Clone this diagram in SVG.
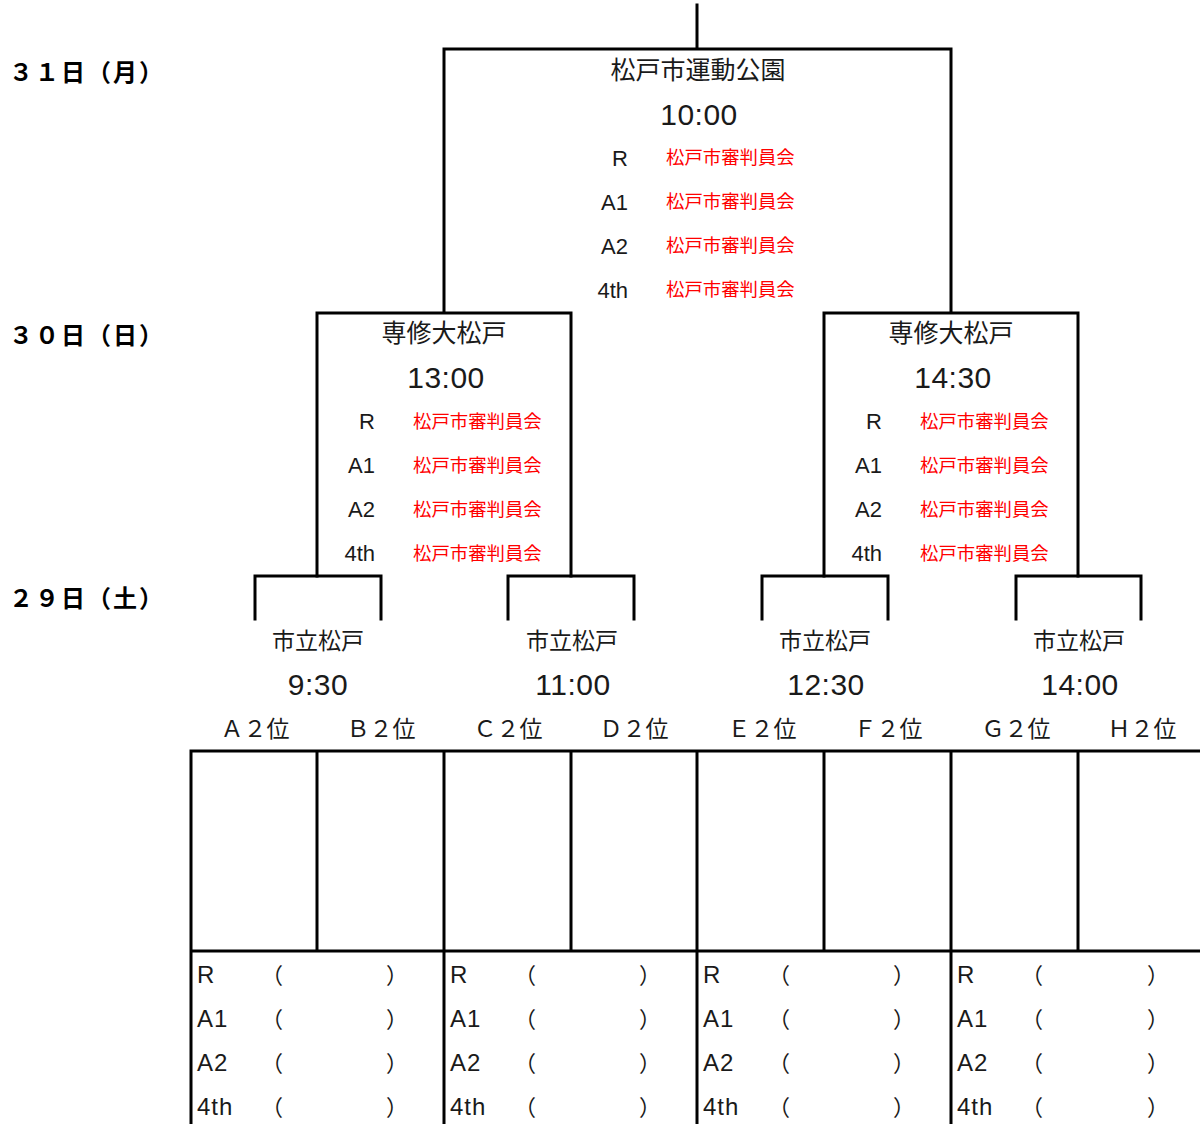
<svg xmlns="http://www.w3.org/2000/svg" width="1200" height="1124" viewBox="0 0 1200 1124">
<style>
.ln{stroke:#000;stroke-width:3;fill:none;stroke-linecap:square}
.jp{font-family:"Noto Sans CJK JP","Liberation Sans",sans-serif;fill:#1a1a1a}
.date{font-family:"Noto Sans CJK JP","Liberation Sans",sans-serif;font-size:24px;fill:#000;font-weight:bold;letter-spacing:2px}
.ven{font-size:25px;text-anchor:middle}
.time{font-family:"Liberation Sans","Noto Sans",sans-serif;font-size:30px;fill:#1a1a1a;text-anchor:middle;letter-spacing:0.5px}
.lab{font-family:"Liberation Sans","Noto Sans",sans-serif;font-size:22px;fill:#1a1a1a;text-anchor:end}
.ref{font-family:"Noto Sans CJK JP",sans-serif;font-size:18.4px;fill:#ff0000}
.team{font-family:"Noto Sans CJK JP","Liberation Sans",sans-serif;font-size:23px;fill:#1a1a1a;text-anchor:middle}
.cell{font-family:"Liberation Sans","Noto Sans",sans-serif;font-size:24px;fill:#1a1a1a;letter-spacing:1px}
.par{font-family:"Noto Sans CJK JP",sans-serif;font-size:22px;fill:#1a1a1a;text-anchor:middle}
</style>

<g id="dates">
<text class="date" x="9" y="81">３１日（月）</text>
<text class="date" x="9" y="344">３０日（日）</text>
<text class="date" x="9" y="607">２９日（土）</text>
</g>

<g id="connectors">
<path class="ln" d="M697,5 V49 M444,312 V49 H951 V312"/>
<path class="ln" d="M317,576 V313 H571 V576"/>
<path class="ln" d="M824,576 V313 H1078 V576"/>
<path class="ln" d="M255,619 V576 H381 V619"/>
<path class="ln" d="M508,619 V576 H634 V619"/>
<path class="ln" d="M762,619 V576 H888 V619"/>
<path class="ln" d="M1016,619 V576 H1141 V619"/>
</g>

<g id="final">
<text class="jp ven" x="698" y="79">松戸市運動公園</text>
<text class="time" x="699" y="125">10:00</text>
<text class="lab" x="628" y="166">R</text>
<text class="lab" x="628" y="210">A1</text>
<text class="lab" x="628" y="254">A2</text>
<text class="lab" x="628" y="298">4th</text>
<text class="ref" x="666" y="164">松戸市審判員会</text>
<text class="ref" x="666" y="208">松戸市審判員会</text>
<text class="ref" x="666" y="252">松戸市審判員会</text>
<text class="ref" x="666" y="296">松戸市審判員会</text>
</g>

<g id="semi-left">
<text class="jp ven" x="444" y="342">専修大松戸</text>
<text class="time" x="446" y="388">13:00</text>
<text class="lab" x="375" y="429">R</text>
<text class="lab" x="375" y="473">A1</text>
<text class="lab" x="375" y="517">A2</text>
<text class="lab" x="375" y="561">4th</text>
<text class="ref" x="413" y="428">松戸市審判員会</text>
<text class="ref" x="413" y="472">松戸市審判員会</text>
<text class="ref" x="413" y="516">松戸市審判員会</text>
<text class="ref" x="413" y="560">松戸市審判員会</text>
</g>

<g id="semi-right">
<text class="jp ven" x="951" y="342">専修大松戸</text>
<text class="time" x="953" y="388">14:30</text>
<text class="lab" x="882" y="429">R</text>
<text class="lab" x="882" y="473">A1</text>
<text class="lab" x="882" y="517">A2</text>
<text class="lab" x="882" y="561">4th</text>
<text class="ref" x="920" y="428">松戸市審判員会</text>
<text class="ref" x="920" y="472">松戸市審判員会</text>
<text class="ref" x="920" y="516">松戸市審判員会</text>
<text class="ref" x="920" y="560">松戸市審判員会</text>
</g>

<g id="match1">
<text class="jp ven" x="318" y="649" style="font-size:23px">市立松戸</text>
<text class="time" x="318" y="695">9:30</text>
</g>
<g id="match2">
<text class="jp ven" x="572" y="649" style="font-size:23px">市立松戸</text>
<text class="time" x="573" y="695">11:00</text>
</g>
<g id="match3">
<text class="jp ven" x="825" y="649" style="font-size:23px">市立松戸</text>
<text class="time" x="826" y="695">12:30</text>
</g>
<g id="match4">
<text class="jp ven" x="1079" y="649" style="font-size:23px">市立松戸</text>
<text class="time" x="1080" y="695">14:00</text>
</g>

<g id="teams">
<text class="team" x="255" y="737">Ａ２位</text>
<text class="team" x="381" y="737">Ｂ２位</text>
<text class="team" x="508" y="737">Ｃ２位</text>
<text class="team" x="634" y="737">Ｄ２位</text>
<text class="team" x="762" y="737">Ｅ２位</text>
<text class="team" x="888" y="737">Ｆ２位</text>
<text class="team" x="1016" y="737">Ｇ２位</text>
<text class="team" x="1142" y="737">Ｈ２位</text>
</g>

<g id="table">
<path class="ln" d="M191,751 H1200 M191,951 H1200 M191,751 V1124 M444,751 V1124 M697,751 V1124 M951,751 V1124 M317,751 V951 M571,751 V951 M824,751 V951 M1078,751 V951"/>
<g id="ref-cells">
<g id="ref-cell-1">
<text class="cell" x="197" y="983">R</text><text class="cell" x="197" y="1027">A1</text><text class="cell" x="197" y="1071">A2</text><text class="cell" x="197" y="1115">4th</text>
<text class="par" y="983"><tspan x="272">（</tspan><tspan x="397">）</tspan></text>
<text class="par" y="1027"><tspan x="272">（</tspan><tspan x="397">）</tspan></text>
<text class="par" y="1071"><tspan x="272">（</tspan><tspan x="397">）</tspan></text>
<text class="par" y="1115"><tspan x="272">（</tspan><tspan x="397">）</tspan></text>
</g>
<g id="ref-cell-2">
<text class="cell" x="450" y="983">R</text><text class="cell" x="450" y="1027">A1</text><text class="cell" x="450" y="1071">A2</text><text class="cell" x="450" y="1115">4th</text>
<text class="par" y="983"><tspan x="525">（</tspan><tspan x="650">）</tspan></text>
<text class="par" y="1027"><tspan x="525">（</tspan><tspan x="650">）</tspan></text>
<text class="par" y="1071"><tspan x="525">（</tspan><tspan x="650">）</tspan></text>
<text class="par" y="1115"><tspan x="525">（</tspan><tspan x="650">）</tspan></text>
</g>
<g id="ref-cell-3">
<text class="cell" x="703" y="983">R</text><text class="cell" x="703" y="1027">A1</text><text class="cell" x="703" y="1071">A2</text><text class="cell" x="703" y="1115">4th</text>
<text class="par" y="983"><tspan x="779">（</tspan><tspan x="904">）</tspan></text>
<text class="par" y="1027"><tspan x="779">（</tspan><tspan x="904">）</tspan></text>
<text class="par" y="1071"><tspan x="779">（</tspan><tspan x="904">）</tspan></text>
<text class="par" y="1115"><tspan x="779">（</tspan><tspan x="904">）</tspan></text>
</g>
<g id="ref-cell-4">
<text class="cell" x="957" y="983">R</text><text class="cell" x="957" y="1027">A1</text><text class="cell" x="957" y="1071">A2</text><text class="cell" x="957" y="1115">4th</text>
<text class="par" y="983"><tspan x="1032">（</tspan><tspan x="1158">）</tspan></text>
<text class="par" y="1027"><tspan x="1032">（</tspan><tspan x="1158">）</tspan></text>
<text class="par" y="1071"><tspan x="1032">（</tspan><tspan x="1158">）</tspan></text>
<text class="par" y="1115"><tspan x="1032">（</tspan><tspan x="1158">）</tspan></text>
</g>
</g>
</g>
</svg>
